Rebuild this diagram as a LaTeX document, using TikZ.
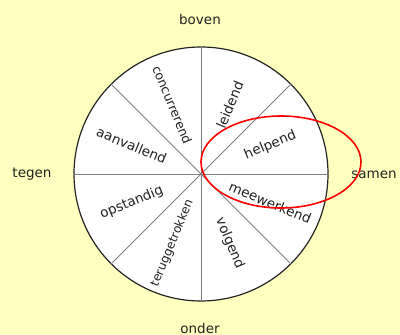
\documentclass[tikz,border=0pt]{standalone}
\usepackage{fontspec}
\setmainfont{DejaVu Sans}
\usepackage{xcolor}
\usepackage{tikz}
\usetikzlibrary{calc}
\definecolor{paper}{RGB}{255,255,192}
\definecolor{ink}{RGB}{34,34,34}

\begin{document}
\begin{tikzpicture}[x=1bp,y=1bp,
  dir/.style={text=ink,font=\fontsize{13.5bp}{15bp}\selectfont,inner sep=0pt},
  sector/.style={text=ink,inner sep=0pt},
  spoke/.style={draw=gray,line width=0.8bp},
  ring/.style={draw=red,line width=1.6bp}]
  % --- background and frame ---
  \fill[paper] (0,0) rectangle (400,335);
  \useasboundingbox (0,0) rectangle (400,335);
  % --- the wheel with its eight spokes ---
  \coordinate (c) at (201,161);
  \node[circle,draw=black!85,fill=white,line width=1.2bp,minimum size=254bp,inner sep=0pt] (wheel) at (c) {};
  \foreach \a in {0,45,...,315}
    \draw[spoke] (c) -- (wheel.\a);
  % --- sector labels, set along the radius ---
  \foreach \a/\r/\s/\t in {22.5/22.5/13.5/helpend, 67.5/67.5/13.5/leidend,
      112.5/-67.5/12.5/concurrerend, 157.5/-22.5/13.5/aanvallend,
      202.5/22.5/13.5/opstandig, 247.5/67.5/12/teruggetrokken,
      292.5/-67.5/13.5/volgend, 337.5/-22.5/13.5/meewerkend}
    \node[sector,rotate=\r,font=\fontsize{\s bp}{\s bp}\selectfont] (l\t) at ($(c)+(\a:75)$) {\t};
  % --- directions round the wheel ---
  \node[dir] (boven) at (200,316) {boven};
  \node[dir] (onder) at (200,7) {onder};
  \node[dir] (tegen) at (32,161) {tegen};
  \node[dir] (samen) at (374,160) {samen};
  % --- highlight ---
  \draw[ring] (281,173) ellipse [x radius=80, y radius=46];
\end{tikzpicture}
\end{document}
